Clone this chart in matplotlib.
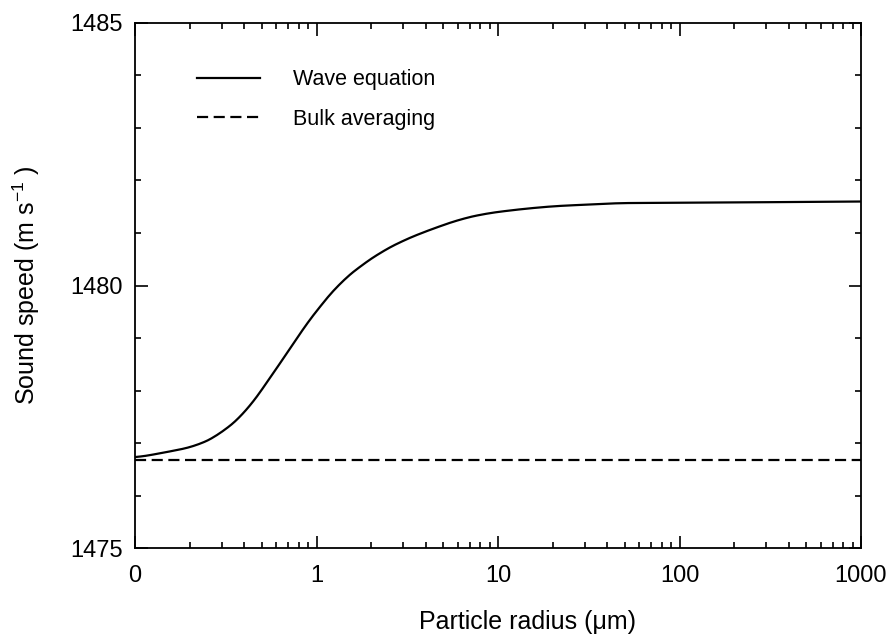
import numpy as np
import matplotlib
matplotlib.use("Agg")
import matplotlib.pyplot as plt
from matplotlib.ticker import FixedLocator, LogLocator, MultipleLocator, NullFormatter

plt.rcParams["font.family"] = ["Liberation Sans", "DejaVu Sans"]
plt.rcParams["mathtext.fontset"] = "custom"
plt.rcParams["mathtext.rm"] = "Liberation Sans"
plt.rcParams["mathtext.it"] = "Liberation Sans"

# particle radius (um) and sound speed (m/s)
radius = [0.1, 0.141, 0.217, 0.293, 0.412, 0.58, 0.673, 0.815, 1.053, 1.36,
          1.76, 2.27, 2.93, 3.78, 4.89, 6.15, 8.5, 13, 20, 46.5, 168, 1000]
wave_eq = [1476.72, 1476.81, 1476.94, 1477.16, 1477.60, 1478.34, 1478.66,
           1479.11, 1479.62, 1480.07, 1480.38, 1480.64, 1480.84, 1481.00,
           1481.14, 1481.26, 1481.37, 1481.45, 1481.51, 1481.57, 1481.58,
           1481.60]
bulk_radius = [0.1, 1000]
bulk_avg = [1476.68, 1476.68]

x_ticks = [0.1, 1, 10, 100, 1000]
x_ticklabels = ["0", "1", "10", "100", "1000"]
y_ticks = [1475, 1480, 1485]

fig = plt.figure(figsize=(8.89, 6.38), dpi=100)
ax = fig.add_axes([0.1519, 0.141, 0.8166, 0.823])

# smooth the hand-read points in log space
xs = np.logspace(-1, 3, 400)
ys = np.interp(np.log10(xs), np.log10(radius), wave_eq)
k = 8
ys_s = np.convolve(np.pad(ys, k, mode="edge"), np.ones(2 * k + 1) / (2 * k + 1), mode="same")[k:-k]

ax.plot(xs, ys_s, color="black", lw=1.6, label="Wave equation")
ax.plot(bulk_radius, bulk_avg, color="black", lw=1.6, linestyle=(0, (5, 2.5)),
        label="Bulk averaging")

ax.set_xscale("log")
ax.set_xlim(0.1, 1000)
ax.set_ylim(1475, 1485)

ax.xaxis.set_major_locator(FixedLocator(x_ticks))
ax.set_xticklabels(x_ticklabels)
ax.xaxis.set_minor_locator(LogLocator(base=10, subs=np.arange(2, 10)))
ax.xaxis.set_minor_formatter(NullFormatter())
ax.yaxis.set_major_locator(FixedLocator(y_ticks))
ax.yaxis.set_minor_locator(MultipleLocator(1))

ax.tick_params(which="both", direction="in", top=True, right=True,
               labelsize=17, width=1.2)
ax.tick_params(which="major", length=9)
ax.tick_params(which="minor", length=4)
ax.tick_params(axis="y", pad=9)
ax.tick_params(axis="x", pad=12)
for s in ax.spines.values():
    s.set_linewidth(1.3)

ax.set_xlabel("Particle radius (\u03bcm)", fontsize=18)
ax.xaxis.set_label_coords(0.541, -0.118)
ax.set_ylabel("Sound speed (m s$^{-1}$ )", fontsize=18)
ax.yaxis.set_label_coords(-0.128, 0.5)

ax.legend(loc="upper left", bbox_to_anchor=(0.0854, 0.912), frameon=False,
          fontsize=15.5, handlelength=2.93, handletextpad=1.55, labelspacing=0.86,
          borderaxespad=0, borderpad=0)

fig.savefig("out.png", dpi=100)
